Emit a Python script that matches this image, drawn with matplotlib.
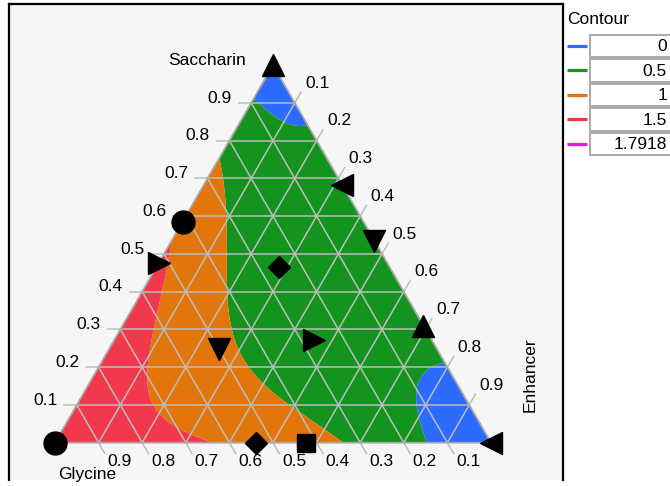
import numpy as np
import matplotlib
matplotlib.use("Agg")
import matplotlib.pyplot as plt
import matplotlib.tri as mtri
from matplotlib.patches import Rectangle

plt.rcParams['font.family'] = ['Liberation Sans', 'DejaVu Sans']
FS = 12.5

components = ["Glycine", "Saccharin", "Enhancer"]
tick_values = [0.1, 0.2, 0.3, 0.4, 0.5, 0.6, 0.7, 0.8, 0.9]
contour_levels = [0, 0.5, 1, 1.5, 1.7918]
contour_labels = ["0", "0.5", "1", "1.5", "1.7918"]
contour_colors = ["#2B6BFF", "#14941E", "#E2760A", "#F2384C", "#E619E6"]

# design points (mixture fractions) and their marker symbols
pt_glycine   = [0.0, 1.0, 0.0, 0.415, 0.525, 0.254, 0.50, 0.27, 0.0, 0.0, 0.0, 0.538, 0.425]
pt_saccharin = [1.0, 0.0, 0.0, 0.585, 0.475, 0.465, 0.248, 0.273, 0.535, 0.683, 0.31, 0.0, 0.0]
pt_enhancer  = [0.0, 0.0, 1.0, 0.0, 0.0, 0.281, 0.252, 0.457, 0.465, 0.317, 0.69, 0.462, 0.575]
pt_marker    = ['^', 'o', '<', 'o', '>', 'D', 'v', '>', 'v', '<', '^', 'D', 's']

# Scheffe cubic mixture model of the response (G, S, E, GS, GE, SE,
# GS(G-S), GE(G-E), SE(S-E), GSE)
model_coef = [1.7087, 0.1735, 0.011, 2.4779, 1.7917, 2.6765, 0.1144, -0.163, -0.0608, -16.2]


def terms(g, s, e):
    g = np.asarray(g, float); s = np.asarray(s, float); e = np.asarray(e, float)
    return np.stack([g, s, e, g*s, g*e, s*e, g*s*(g-s), g*e*(g-e), s*e*(s-e), g*s*e], axis=-1)


def to_xy(g, s, e):
    s = np.asarray(s, float); e = np.asarray(e, float)
    return e + s/2, s*np.sqrt(3)/2


fig = plt.figure(figsize=(6.7, 4.86), dpi=100)
W_PX, H_PX = 670, 486
UNIT = 436.0
Lx, Ly = 55.0, 442.7
left_px, right_px, top_px, bot_px = 8.5, 562.5, 4.5, 480.0
ax = fig.add_axes([left_px/W_PX, (H_PX-bot_px)/H_PX, (right_px-left_px)/W_PX, (bot_px-top_px)/H_PX])
ax.set_xlim((left_px-Lx)/UNIT, (right_px-Lx)/UNIT)
ax.set_ylim((Ly-bot_px)/UNIT, (Ly-top_px)/UNIT)
ax.set_facecolor("#F6F6F6")
ax.set_xticks([]); ax.set_yticks([])
for sp in ['left', 'top', 'right']:
    ax.spines[sp].set_linewidth(1.6)
    ax.spines[sp].set_color('black')
ax.spines['bottom'].set_visible(False)

# response surface on a barycentric grid
n = 200
ss, ee = [], []
for i in range(n+1):
    for j in range(n+1-i):
        ss.append(i/n); ee.append(j/n)
ss = np.array(ss); ee = np.array(ee); gg = 1-ss-ee
fx, fy = to_xy(gg, ss, ee)
f = terms(gg, ss, ee) @ np.array(model_coef)
tri = mtri.Triangulation(fx, fy)
bounds = [-1e3] + contour_levels[1:4] + [1e3]
ax.tricontourf(tri, f, levels=bounds, colors=contour_colors[:4], antialiased=True)

gcol = "#BDBDBD"
tick_len = 12.5/UNIT
d_left = np.array([-1.0, 0.0])
d_bot = np.array([0.5, -np.sqrt(3)/2])
d_right = np.array([0.5, np.sqrt(3)/2])
for v in tick_values:
    # constant saccharin
    x0, y0 = to_xy(1-v, v, 0); x1, y1 = to_xy(0, v, 1-v)
    ax.plot([x0+d_left[0]*tick_len, x1], [y0, y1], color=gcol, lw=1.1, zorder=3)
    ax.annotate(f"{v:g}", (x0+d_left[0]*tick_len, y0), xytext=(-5, 3.5), textcoords='offset points',
                ha='right', va='center', fontsize=FS)
    # constant glycine
    x0, y0 = to_xy(v, 1-v, 0); x1, y1 = to_xy(v, 0, 1-v)
    xe, ye = x1+d_bot[0]*tick_len, y1+d_bot[1]*tick_len
    ax.plot([x0, xe], [y0, ye], color=gcol, lw=1.1, zorder=3)
    ax.annotate(f"{v:g}", (xe, ye), xytext=(2, -5.5), textcoords='offset points',
                ha='left', va='center', fontsize=FS)
    # constant enhancer
    x0, y0 = to_xy(1-v, 0, v); x1, y1 = to_xy(0, 1-v, v)
    xe, ye = x1+d_right[0]*tick_len, y1+d_right[1]*tick_len
    ax.plot([x0, xe], [y0, ye], color=gcol, lw=1.1, zorder=3)
    ax.annotate(f"{v:g}", (xe, ye), xytext=(3, 6.5), textcoords='offset points',
                ha='left', va='center', fontsize=FS)

vx, vy = to_xy([1, 0, 0, 1], [0, 1, 0, 0], [0, 0, 1, 0])
ax.plot(vx, vy, color="#A8A8A8", lw=1.3, zorder=3)

ax.text((207-Lx)/UNIT, (Ly-60)/UNIT, components[1], ha='center', va='center', fontsize=FS)
ax.text((87-Lx)/UNIT, (Ly-474)/UNIT, components[0], ha='center', va='center', fontsize=FS)
ax.text((530-Lx)/UNIT, (Ly-375)/UNIT, components[2], ha='center', va='center', fontsize=FS, rotation=90)

msize = {'o': 16.5, '^': 15.5, 'v': 15.5, '<': 15.5, '>': 15.5, 'D': 11.0, 's': 13.5}
for g, s, e, m in zip(pt_glycine, pt_saccharin, pt_enhancer, pt_marker):
    x, y = to_xy(g, s, e)
    ax.plot([x], [y], marker=m, color='black', markersize=msize[m], linestyle='none', zorder=5, clip_on=False)

# legend panel
lax = fig.add_axes([0, 0, 1, 1])
lax.set_xlim(0, W_PX); lax.set_ylim(H_PX, 0); lax.axis('off')
lax.patch.set_alpha(0)
lax.text(567, 19, "Contour", ha='left', va='center', fontsize=FS)
for i, (lab, col) in enumerate(zip(contour_labels, contour_colors)):
    yc = 46 + 24.5*i
    lax.plot([567, 587], [yc, yc], color=col, lw=2.3, solid_capstyle='butt')
    lax.add_patch(Rectangle((590, yc-11.3), 100, 22.6, facecolor='white', edgecolor='#AAAAAA', lw=1.4, clip_on=False))
    lax.text(667, yc+0.5, lab, ha='right', va='center', fontsize=FS)

fig.savefig("out.png", dpi=100)
